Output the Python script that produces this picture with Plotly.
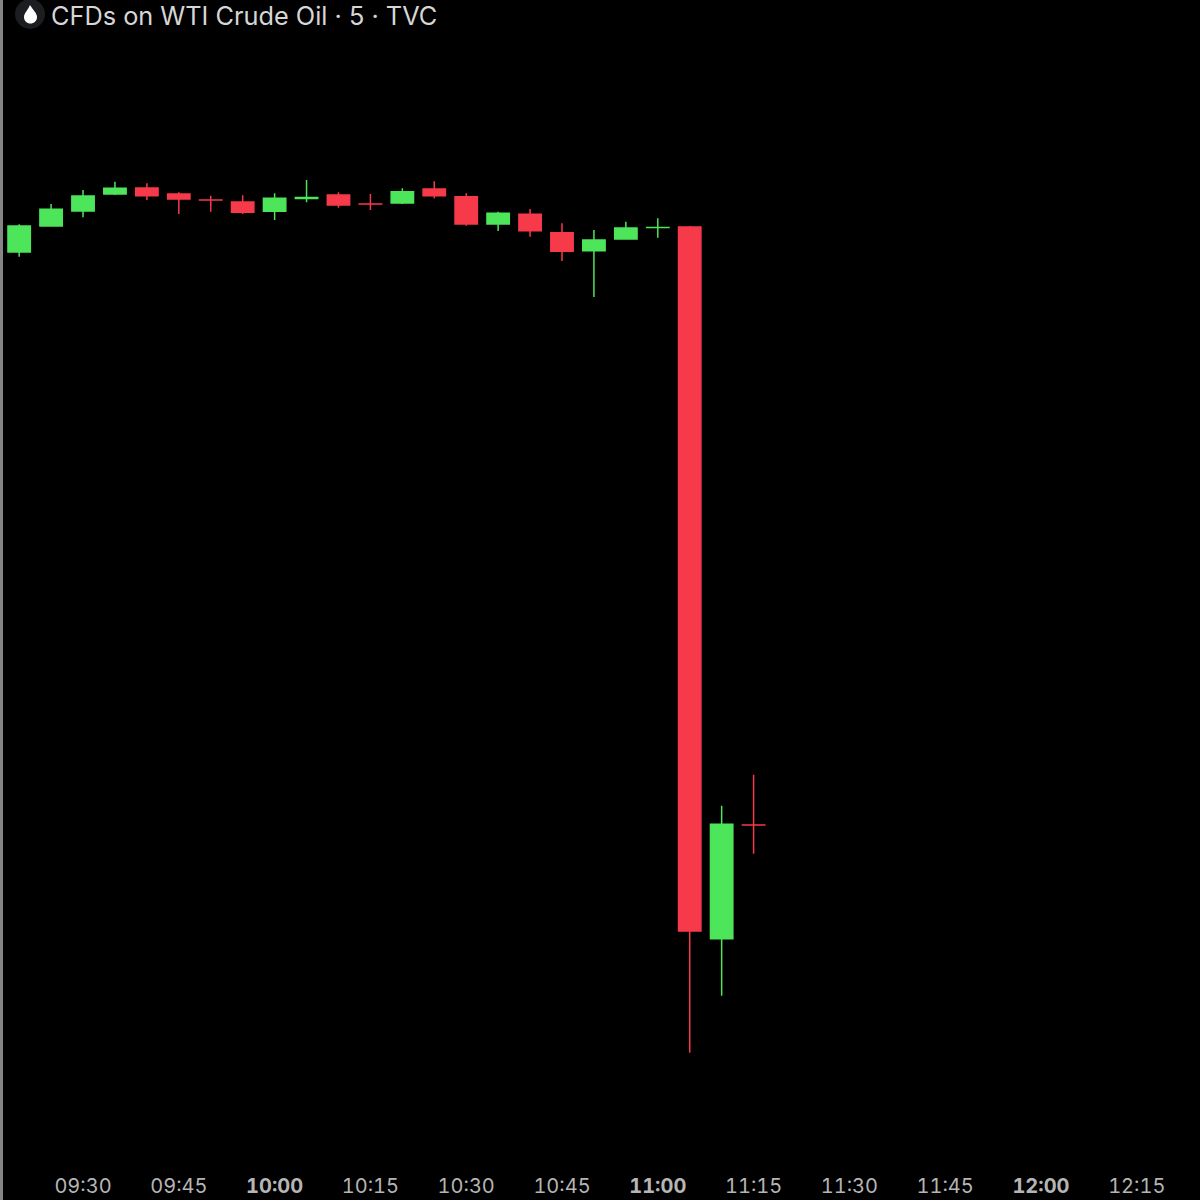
import plotly.graph_objects as go

DAY = "2023-04-03 "
times = ["09:20","09:25","09:30","09:35","09:40","09:45","09:50","09:55","10:00","10:05","10:10","10:15",
         "10:20","10:25","10:30","10:35","10:40","10:45","10:50","10:55","11:00","11:05","11:10","11:15"]
# Prices (the reference shows no price scale)
opens  = [69.48,69.74,69.89,70.06,70.12,70.06,70.00,69.98,69.887,70.015,70.05,69.96,
          69.97,70.11,70.033,69.76,69.857,69.673,69.493,69.61,69.725,69.73,62.613,63.75]
highs  = [69.757,69.96,70.10,70.183,70.167,70.077,70.043,70.047,70.067,70.20,70.077,70.06,
          70.117,70.187,70.067,69.883,69.91,69.767,69.70,69.783,69.817,69.74,63.943,64.253]
lows   = [69.433,69.743,69.827,70.05,70.00,69.86,69.883,69.86,69.80,69.977,69.923,69.90,
          69.96,70.017,69.743,69.69,69.633,69.39,69.03,69.61,69.623,61.473,62.043,63.463]
closes = [69.74,69.907,70.04,70.117,70.043,70.01,69.999,69.877,70.017,70.025,69.95,69.959,
          70.083,70.043,69.76,69.867,69.693,69.487,69.60,69.72,69.726,62.69,63.757,63.749]

tick_times = ["09:30","09:45","10:00","10:15","10:30","10:45","11:00","11:15","11:30","11:45","12:00","12:15"]
tick_labels = ["09:30","09:45","<b>10:00</b>","10:15","10:30","10:45","<b>11:00</b>","11:15","11:30","11:45","<b>12:00</b>","12:15"]
title_text = "CFDs on WTI Crude Oil · 5 · TVC"

GREEN = "#4de55a"
RED = "#f63a4a"
W, H, BOTTOM = 1200, 1200, 30
PW, PH = W, H - BOTTOM
px = lambda x: x / PW
py = lambda y: 1 - y / PH

fig = go.Figure(go.Candlestick(
    x=[DAY + t for t in times], open=opens, high=highs, low=lows, close=closes,
    increasing=dict(line=dict(color=GREEN, width=1.5), fillcolor=GREEN),
    decreasing=dict(line=dict(color=RED, width=1.5), fillcolor=RED),
    whiskerwidth=0, showlegend=False,
))

drop = (f"M {px(30)} {py(5)} C {px(33)} {py(10)} {px(37)} {py(13)} {px(37)} {py(17)} "
        f"C {px(37)} {py(21)} {px(34)} {py(23.5)} {px(30.5)} {py(23.5)} "
        f"C {px(27)} {py(23.5)} {px(24)} {py(21)} {px(24)} {py(17)} "
        f"C {px(24)} {py(13)} {px(28)} {py(10)} {px(30)} {py(5)} Z")

fig.update_layout(
    width=W, height=H, margin=dict(l=0, r=0, t=0, b=BOTTOM),
    paper_bgcolor="#000000", plot_bgcolor="#000000", boxgap=0.0,
    xaxis=dict(type="date", range=[DAY + "09:17:00", DAY + "12:24:54"], rangeslider=dict(visible=False),
               showgrid=False, zeroline=False, showline=False, ticks="", ticklabelstandoff=2,
               tickmode="array", tickvals=[DAY + t for t in tick_times], ticktext=tick_labels,
               tickfont=dict(family="Inter, Roboto, sans-serif", size=20, color="#b5b5b5")),
    yaxis=dict(range=[60.30, 72.0], visible=False, showgrid=False, zeroline=False),
    shapes=[
        dict(type="rect", xref="paper", yref="paper", x0=0, x1=px(3), y0=py(1200), y1=py(0),
             fillcolor="#858585", line=dict(width=0)),
        dict(type="circle", xref="paper", yref="paper", x0=px(15), x1=px(45), y0=py(29), y1=py(-1),
             fillcolor="#1b1d21", line=dict(width=0)),
        dict(type="path", xref="paper", yref="paper", path=drop, fillcolor="#ffffff", line=dict(width=0)),
    ],
    annotations=[dict(text=title_text, xref="paper", yref="paper", x=px(49.5), y=py(15.5),
                      xanchor="left", yanchor="middle", showarrow=False, borderpad=0,
                      font=dict(family="Inter, Roboto, sans-serif", size=25.3, color="#d6d6d6"))],
)
post = ("document.body.style.margin='0';"
        "var s=document.createElement('style');"
        "s.textContent=\".xtick text{font-feature-settings:'tnum' 1;}\";"
        "document.head.appendChild(s);")
fig.write_html("out.html", config={"displayModeBar": False}, post_script=post)
